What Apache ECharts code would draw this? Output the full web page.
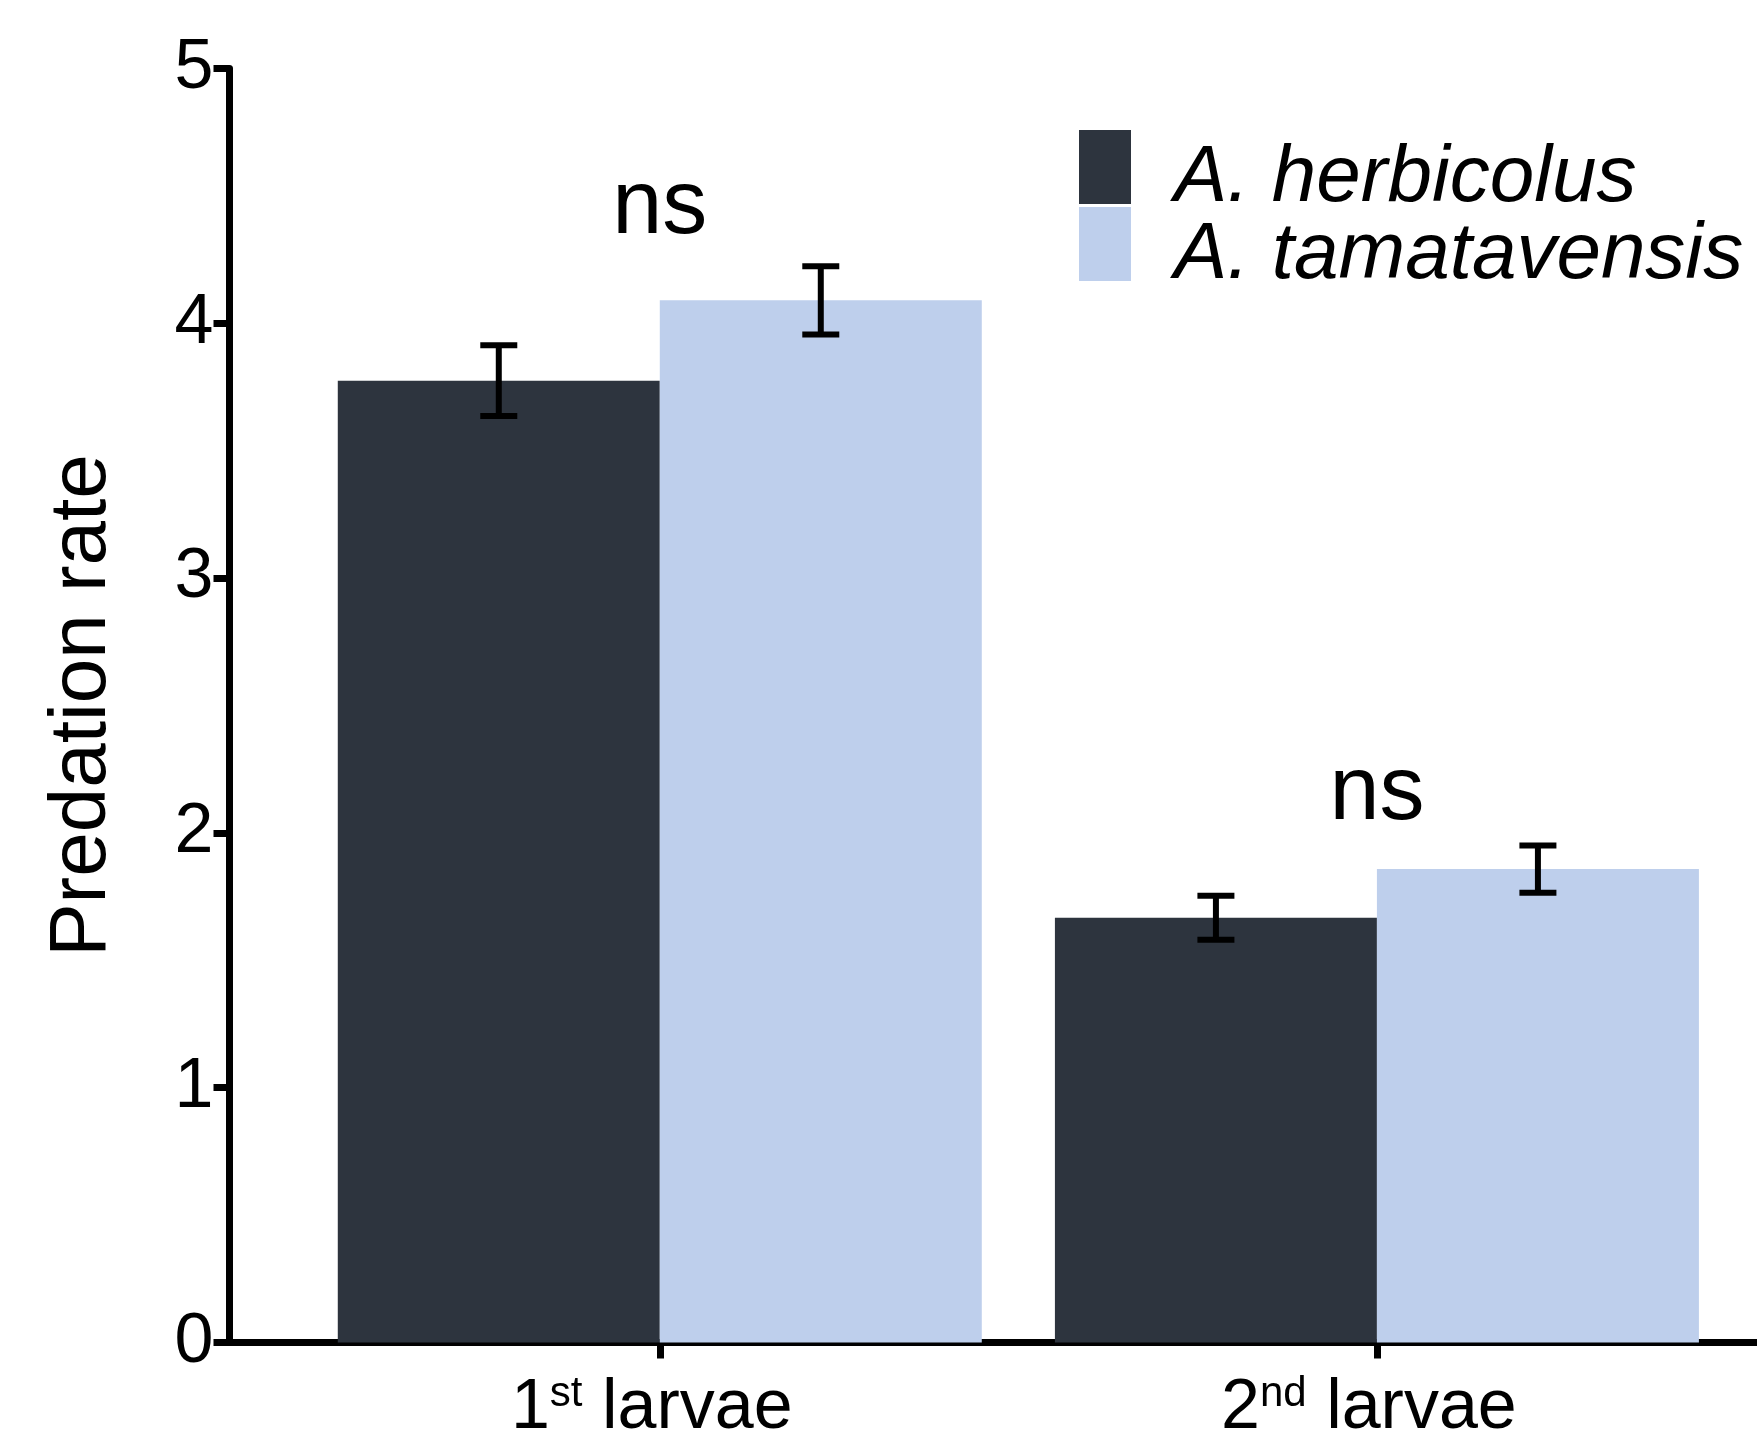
<!DOCTYPE html>
<html>
<head>
<meta charset="utf-8">
<script src="https://cdn.jsdelivr.net/npm/echarts@6/dist/echarts.min.js"></script>
<style>
html,body{margin:0;padding:0;background:#fff;}
#chart{width:1757px;height:1429px;}
</style>
</head>
<body>
<div id="chart"></div>
<script>
// ---- data ----
const catPositions = [1, 2];
const catNums = ['1', '2'];
const catSups = ['st', 'nd'];
const catWord = 'larvae';
const seriesNames = ['A. herbicolus', 'A. tamatavensis'];
const herbicolus = [3.775, 1.667];
const herbicolusErr = [0.139, 0.086];
const tamatavensis = [4.09, 1.858];
const tamatavensisErr = [0.134, 0.093];
const sigLabels = ['ns', 'ns'];
const sigY = [4.45, 2.15];
const yTicks = [0, 1, 2, 3, 4, 5];
const yName = 'Predation rate';

// ---- style constants ----
const FONT = '"Liberation Sans", Arial, sans-serif';
const BAR_WIDTH = 322;
const CAP_HALF = 18.5;
const colors = ['#2d343e', '#becfec'];
// legend swatch: 52x74 block placed inside a taller 52x120 icon box
const LEGEND_ICON = 'path://M0,0h0.01v0.01h-0.01Z M0,11H52V85H0Z M0,119.99h0.01V120h-0.01Z';

const chart = echarts.init(document.getElementById('chart'));

const errData = [];
catPositions.forEach((p, i) => {
  errData.push([p, herbicolus[i], herbicolusErr[i], -1]);
  errData.push([p, tamatavensis[i], tamatavensisErr[i], 1]);
});

const option = {
  animation: false,
  backgroundColor: '#fff',
  grid: { left: 229.5, right: 0, top: 68.5, bottom: 86.5, containLabel: false, outerBoundsMode: 'none' },
  legend: {
    orient: 'vertical',
    left: 1079, top: 119,
    padding: 0,
    itemWidth: 52, itemHeight: 120, itemGap: -43,
    icon: LEGEND_ICON,
    symbolKeepAspect: false,
    selectedMode: false,
    data: seriesNames,
    textStyle: {
      fontFamily: FONT, fontSize: 80, fontStyle: 'italic', color: '#000',
      padding: [0, 0, 0, 38]
    }
  },
  xAxis: {
    type: 'value',
    min: 0.4, max: 2.53,
    splitLine: { show: false },
    axisLine: { show: true, lineStyle: { color: '#000', width: 7 } },
    axisTick: { show: true, customValues: catPositions, length: 16, lineStyle: { color: '#000', width: 7 } },
    axisLabel: {
      customValues: catPositions,
      margin: 31,
      padding: [0, 16, 0, 0],
      formatter: function (v) {
        const i = catPositions.indexOf(v);
        if (i < 0) return '';
        return '{n|' + catNums[i] + '}{sup|' + catSups[i] + '}{n| ' + catWord + '}';
      },
      rich: {
        n: { fontFamily: FONT, fontSize: 70, lineHeight: 70, color: '#000' },
        sup: { fontFamily: FONT, fontSize: 42, lineHeight: 57, verticalAlign: 'top', color: '#000' }
      }
    }
  },
  yAxis: {
    type: 'value',
    min: yTicks[0], max: yTicks[yTicks.length - 1], interval: 1,
    name: yName,
    nameLocation: 'middle',
    nameGap: 107,
    nameMoveOverlap: false,
    nameTextStyle: { fontFamily: FONT, fontSize: 80, color: '#000' },
    splitLine: { show: false },
    axisLine: { show: true, lineStyle: { color: '#000', width: 7 } },
    axisTick: { show: true, length: 16, lineStyle: { color: '#000', width: 7 } },
    axisLabel: { fontFamily: FONT, fontSize: 70, color: '#000', margin: 16, padding: [18, 0, 0, 0] }
  },
  series: [
    {
      name: seriesNames[0], type: 'bar',
      barWidth: BAR_WIDTH, barGap: '0%',
      itemStyle: { color: colors[0] },
      data: catPositions.map((p, i) => [p, herbicolus[i]]),
      silent: true
    },
    {
      name: seriesNames[1], type: 'bar',
      barWidth: BAR_WIDTH, barGap: '0%',
      itemStyle: { color: colors[1] },
      data: catPositions.map((p, i) => [p, tamatavensis[i]]),
      silent: true
    },
    {
      type: 'custom',
      silent: true,
      z: 10,
      encode: { x: 0, y: 1 },
      data: errData,
      renderItem: function (params, api) {
        const x = api.value(0), v = api.value(1), e = api.value(2), side = api.value(3);
        const t = api.coord([x, v + e]);
        const b = api.coord([x, v - e]);
        const cx = t[0] + side * BAR_WIDTH / 2;
        const st = { stroke: '#000', lineWidth: 6, fill: null };
        return {
          type: 'group',
          children: [
            { type: 'line', shape: { x1: cx, y1: t[1], x2: cx, y2: b[1] }, style: st },
            { type: 'line', shape: { x1: cx - CAP_HALF, y1: t[1], x2: cx + CAP_HALF, y2: t[1] }, style: st },
            { type: 'line', shape: { x1: cx - CAP_HALF, y1: b[1], x2: cx + CAP_HALF, y2: b[1] }, style: st }
          ]
        };
      }
    },
    {
      type: 'custom',
      silent: true,
      z: 20,
      encode: { x: 0, y: 1 },
      data: catPositions.map((p, i) => [p, sigY[i]]),
      renderItem: function (params, api) {
        const c = api.coord([api.value(0), api.value(1)]);
        return {
          type: 'text',
          x: c[0], y: c[1],
          style: {
            text: sigLabels[params.dataIndex],
            fill: '#000',
            fontFamily: FONT, fontSize: 90,
            align: 'center', verticalAlign: 'middle'
          }
        };
      }
    }
  ]
};
chart.setOption(option);
</script>
</body>
</html>
